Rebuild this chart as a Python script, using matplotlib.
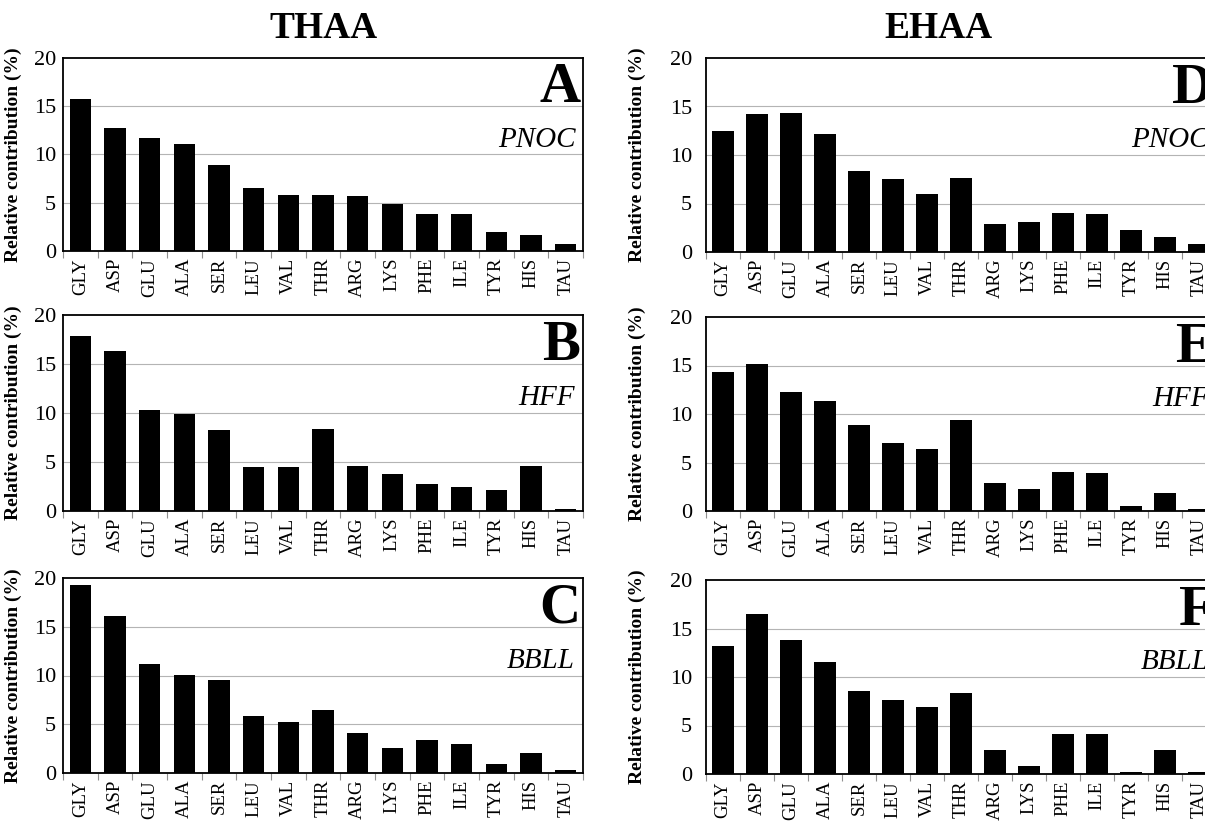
import numpy as np
import matplotlib.pyplot as plt

plt.rcParams['font.family'] = ['Liberation Serif', 'DejaVu Serif']

# amino acids (x categories)
amino = ['GLY', 'ASP', 'GLU', 'ALA', 'SER', 'LEU', 'VAL', 'THR',
         'ARG', 'LYS', 'PHE', 'ILE', 'TYR', 'HIS', 'TAU']

# THAA relative contribution (%)
thaa_pnoc = [15.7, 12.7, 11.7, 11.1, 8.9, 6.5, 5.8, 5.8, 5.7, 4.9, 3.8, 3.8, 2.0, 1.7, 0.7]
thaa_hff = [17.9, 16.3, 10.3, 9.9, 8.3, 4.5, 4.5, 8.4, 4.6, 3.8, 2.8, 2.4, 2.1, 4.6, 0.2]
thaa_bbll = [19.3, 16.1, 11.2, 10.1, 9.5, 5.8, 5.2, 6.5, 4.1, 2.6, 3.35, 3.0, 0.9, 2.05, 0.35]

# EHAA relative contribution (%)
ehaa_pnoc = [12.5, 14.2, 14.3, 12.2, 8.3, 7.5, 6.0, 7.6, 2.9, 3.1, 4.0, 3.9, 2.3, 1.5, 0.8]
ehaa_hff = [14.3, 15.2, 12.3, 11.3, 8.9, 7.0, 6.4, 9.4, 2.9, 2.3, 4.0, 3.9, 0.5, 1.9, 0.2]
ehaa_bbll = [13.2, 16.5, 13.8, 11.5, 8.6, 7.6, 6.9, 8.4, 2.5, 0.8, 4.1, 4.1, 0.25, 2.5, 0.2]

sites = ['PNOC', 'HFF', 'BBLL']
letters_left = ['A', 'B', 'C']
letters_right = ['D', 'E', 'F']
left_data = [thaa_pnoc, thaa_hff, thaa_bbll]
right_data = [ehaa_pnoc, ehaa_hff, ehaa_bbll]

W, H = 1205, 824
fig = plt.figure(figsize=(W / 100, H / 100), dpi=100)

# pixel boxes (left, top, right, bottom); right column runs a bit past the picture edge
left_boxes = [(63, 58, 583, 251), (63, 315, 583, 511), (63, 578, 583, 773)]
right_boxes = [(706, 58, 1216, 252), (706, 317, 1216, 511), (706, 580, 1216, 774)]


def draw_panel(box, values, letter, site, ylab_x, tick_pad):
    l, t, r, b = box
    ax = fig.add_axes([l / W, 1 - b / H, (r - l) / W, (b - t) / H])
    x = np.arange(len(amino))
    ax.bar(x, values, width=0.62, color='black', zorder=3)
    ax.set_xlim(-0.5, len(amino) - 0.5)
    ax.set_ylim(0, 20)
    ax.set_yticks([0, 5, 10, 15, 20])
    for g in [5, 10, 15]:
        ax.axhline(g, color='#b4b4b4', lw=0.8, zorder=1)
    ax.set_xticks(x)
    ax.set_xticklabels(amino, rotation=90, fontsize=13.5)
    ax.set_xticks(np.arange(len(amino) + 1) - 0.5, minor=True)
    ax.tick_params(axis='x', which='major', length=0, pad=5)
    ax.tick_params(axis='x', which='minor', length=5, color='#909090', width=0.8)
    ax.tick_params(axis='y', length=0, pad=tick_pad, labelsize=16)
    for s in ax.spines.values():
        s.set_linewidth(1.3)
        s.set_color('black')
    ax.set_ylabel('Relative contribution (%)', fontsize=14, fontweight='bold')
    ax.yaxis.set_label_coords(ylab_x, 0.5)
    ax.text(0.995, 0.77, letter, transform=ax.transAxes, ha='right', va='baseline',
            fontsize=41, fontweight='bold')
    ax.text(0.985, 0.54, site, transform=ax.transAxes, ha='right', va='baseline',
            fontsize=21, style='italic')
    return ax


for i in range(3):
    draw_panel(left_boxes[i], left_data[i], letters_left[i], sites[i], -0.079, 5)
    draw_panel(right_boxes[i], right_data[i], letters_right[i], sites[i], -0.118, 10)

fig.text(323 / W, 1 - 28 / H, 'THAA', ha='center', va='center', fontsize=27, fontweight='bold')
fig.text(938 / W, 1 - 28 / H, 'EHAA', ha='center', va='center', fontsize=27, fontweight='bold')

fig.savefig('out.png', dpi=100)
